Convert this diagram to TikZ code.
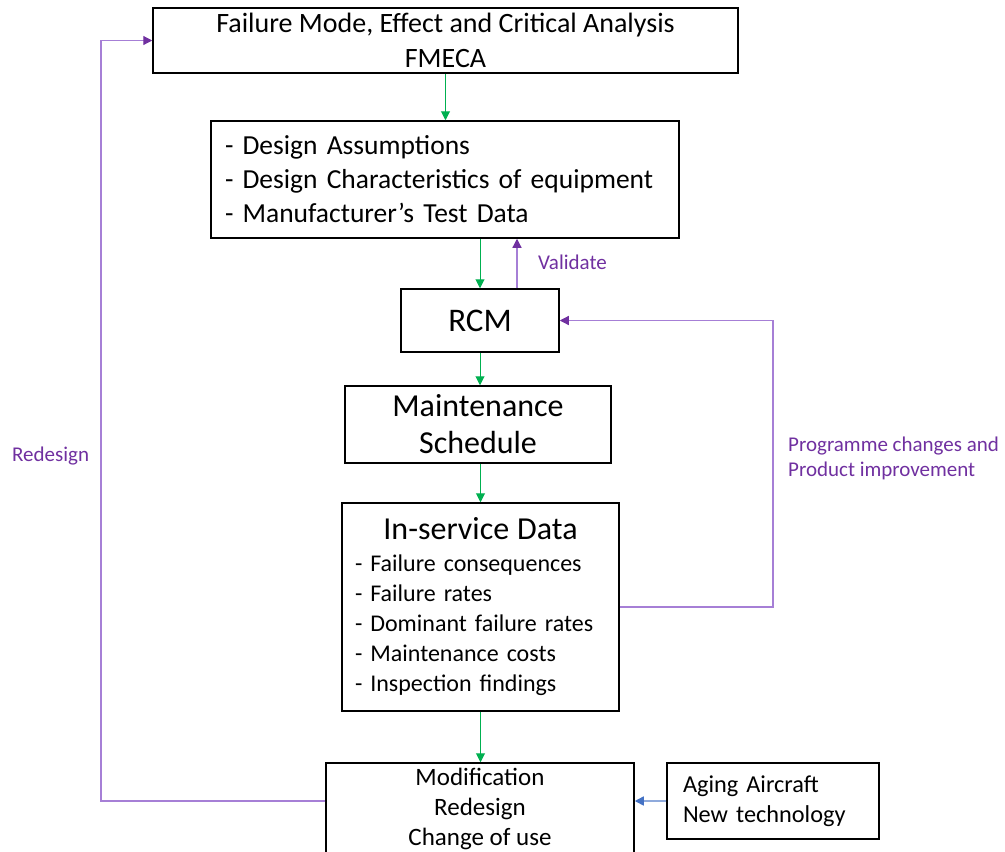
\documentclass[tikz,border=0pt]{standalone}
\usepackage{fontspec}
\setmainfont{Carlito}
\usetikzlibrary{arrows.meta}
\definecolor{flowgreen}{HTML}{00B050}
\definecolor{loopviolet}{HTML}{7030A0}
\definecolor{looplight}{HTML}{A67FD6}
\definecolor{feedblue}{HTML}{4472C4}
\definecolor{feedlight}{HTML}{8FAADC}
\newcommand{\fsz}[2]{\fontsize{#1}{#2}\selectfont}
\begin{document}
\begin{tikzpicture}[x=1pt,y=-1pt,
  box/.style={draw=black, line width=1.5pt, rectangle, inner sep=0pt},
  flow/.style={draw=flowgreen, line width=1pt, -{Triangle[length=9pt,width=9pt,color=flowgreen]}},
  loop/.style={draw=looplight, line width=1.2pt, -{Triangle[length=9pt,width=9pt,color=loopviolet]}},
  feed/.style={draw=feedlight, line width=1.5pt, -{Triangle[length=9pt,width=9pt,color=feedblue]}},
  looplabel/.style={text=loopviolet, inner sep=0pt, font=\fsz{21}{25}, align=left}]
\useasboundingbox (0,0) rectangle (1005,852);

% process boxes
\node[box, minimum width=585pt, minimum height=65pt, align=center, font=\fsz{28}{35}]
  (fmeca) at (445.5,40.5) {Failure Mode, Effect and Critical Analysis\\FMECA};
\node[box, minimum width=468pt, minimum height=117pt, text width=440pt, align=left, font=\fsz{27.5}{34}]
  (design) at (445,179.5) {- Design Assumptions\\- Design Characteristics of equipment\\- Manufacturer’s Test Data};
\node[box, minimum width=158pt, minimum height=63pt, font=\fsz{33}{38}]
  (rcm) at (480,320.5) {RCM};
\node[box, minimum width=266pt, minimum height=77pt, align=center, font=\fsz{32}{37}]
  (maint) at (478,424.5) {Maintenance\\Schedule};
\node[box, minimum width=277pt, minimum height=208pt, text width=251pt, align=left, font=\fsz{24}{30}]
  (inserv) at (480.5,607) {\makebox[251pt]{\fsz{32}{34}In-service Data}\\[2pt]- Failure consequences\\- Failure rates\\- Dominant failure rates\\- Maintenance costs\\- Inspection findings};
\node[box, minimum width=308pt, minimum height=92pt, align=center, font=\fsz{25}{30}]
  (mod) at (480,809) {Modification\\Redesign\\Change of use};
\node[box, minimum width=212pt, minimum height=76pt, text width=180pt, align=left, font=\fsz{24.3}{30}]
  (aging) at (773,801) {Aging Aircraft\\New technology};

% main flow
\draw[flow] (fmeca.south) -- (fmeca.south |- design.north);
\draw[flow] (design.south -| rcm.north) -- (rcm.north);
\draw[flow] (rcm.south) -- (rcm.south |- maint.north);
\draw[flow] (inserv.north |- maint.south) -- (inserv.north);
\draw[flow] (inserv.south) -- (inserv.south |- mod.north);

% feedback loops
\draw[loop] ([xshift=37pt]rcm.north) -- ([xshift=37pt]rcm.north |- design.south);
\node[looplabel, anchor=west] (validate) at (538,262) {Validate};

\coordinate (progturn) at (773,607);
\draw[loop] (inserv.east) -- (progturn) |- (rcm.east);
\node[looplabel, anchor=west] (proglabel) at (788,458.5) {Programme changes and\\Product improvement};

\coordinate (redesignturn) at (101,801);
\draw[loop] ([yshift=8pt]mod.west) -- (redesignturn) |- (fmeca.west);
\node[looplabel, anchor=west] (redesignlabel) at (12,456) {Redesign};

\draw[feed] (aging.west) -- (aging.west -| mod.east);
\end{tikzpicture}
\end{document}
